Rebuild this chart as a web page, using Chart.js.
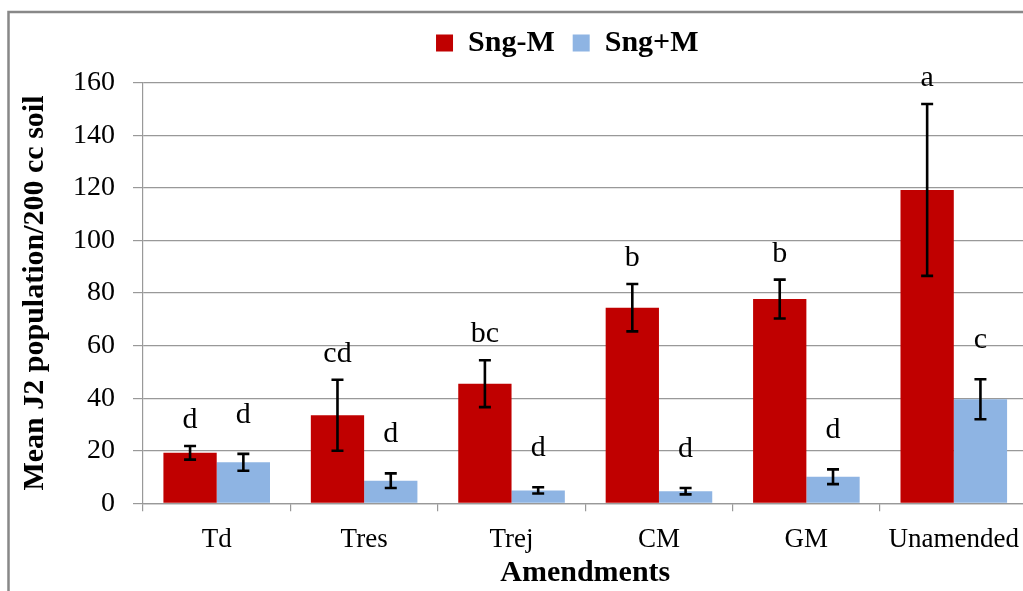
<!DOCTYPE html>
<html>
<head>
<meta charset="utf-8">
<script src="https://cdn.jsdelivr.net/npm/chart.js@4"></script>
<style>
  html, body { margin: 0; padding: 0; background: #fff; overflow: hidden; }
  #wrap { position: absolute; left: 0; top: 0; width: 1040px; height: 591px; }
</style>
</head>
<body>
<div id="wrap"><canvas id="chart" width="1040" height="591"></canvas></div>
<script>
// Amendment treatments on the x axis
const categories = ['Td', 'Tres', 'Trej', 'CM', 'GM', 'Unamended'];

// Mean J2 population per 200 cc soil
const sngMinus = [19.2, 33.5, 45.5, 74.4, 77.7, 119.2];
const sngPlus  = [15.6, 8.6, 4.9, 4.6, 10.1, 39.6];

// Standard errors
const sngMinusErr = [2.6, 13.5, 8.9, 9.0, 7.4, 32.7];
const sngPlusErr  = [3.2, 2.8, 1.2, 1.2, 2.8, 7.6];

// Mean separation letters
const sngMinusLetters = ['d', 'cd', 'bc', 'b', 'b', 'a'];
const sngPlusLetters  = ['d', 'd', 'd', 'd', 'd', 'c'];

// Y axis ticks
const yMin = 0, yMax = 160, yStep = 20;

const SERIF = '"Liberation Serif", "Times New Roman", serif';

// Chart-area frame and white background
const frame = {
  id: 'frame',
  beforeDraw(chart) {
    const ctx = chart.ctx;
    ctx.save();
    ctx.fillStyle = '#ffffff';
    ctx.fillRect(0, 0, chart.width, chart.height);
    ctx.strokeStyle = '#888888';
    ctx.lineWidth = 2.5;
    ctx.strokeRect(8.5, 12, chart.width + 20, chart.height + 20);
    ctx.restore();
  }
};

// Legend sits a little left of the plot centre
const legendShift = {
  id: 'legendShift',
  afterLayout(chart) {
    const lg = chart.legend;
    if (lg) { lg.left -= 18; lg.right -= 18; }
  }
};

// Error bars with caps, and the letters above them
const errorBars = {
  id: 'errorBars',
  afterDatasetsDraw(chart) {
    const ctx = chart.ctx;
    const y = chart.scales.y;
    const letterGap = [18, 31];
    ctx.save();
    chart.data.datasets.forEach((ds, i) => {
      const meta = chart.getDatasetMeta(i);
      meta.data.forEach((bar, j) => {
        const v = ds.data[j], e = ds.errors[j];
        const top = y.getPixelForValue(v + e);
        const bot = y.getPixelForValue(v - e);
        ctx.strokeStyle = '#000';
        ctx.lineWidth = 2.6;
        ctx.beginPath();
        ctx.moveTo(bar.x, top); ctx.lineTo(bar.x, bot);
        ctx.moveTo(bar.x - 6, top); ctx.lineTo(bar.x + 6, top);
        ctx.moveTo(bar.x - 6, bot); ctx.lineTo(bar.x + 6, bot);
        ctx.stroke();
        ctx.fillStyle = '#000';
        ctx.font = '30px ' + SERIF;
        ctx.textAlign = 'center';
        ctx.textBaseline = 'alphabetic';
        ctx.fillText(ds.letters[j], bar.x, top - letterGap[i]);
      });
    });
    ctx.restore();
  }
};

new Chart(document.getElementById('chart'), {
  type: 'bar',
  data: {
    labels: categories,
    datasets: [
      {
        label: 'Sng-M',
        data: sngMinus,
        errors: sngMinusErr,
        letters: sngMinusLetters,
        backgroundColor: '#C00000',
        borderWidth: 0,
        categoryPercentage: 0.723,
        barPercentage: 1
      },
      {
        label: 'Sng+M',
        data: sngPlus,
        errors: sngPlusErr,
        letters: sngPlusLetters,
        backgroundColor: '#8EB4E3',
        borderWidth: 0,
        categoryPercentage: 0.723,
        barPercentage: 1
      }
    ]
  },
  options: {
    responsive: false,
    animation: false,
    devicePixelRatio: 1,
    layout: { padding: { top: 10, right: 12.5, bottom: 0, left: 0 } },
    plugins: {
      legend: {
        position: 'top',
        fullSize: false,
        labels: {
          boxWidth: 17,
          boxHeight: 17,
          padding: 18,
          color: '#000',
          font: { family: SERIF, size: 30, weight: 'bold' }
        }
      },
      title: {
        display: true,
        text: '',
        weight: 500,
        padding: 0,
        font: { size: 14.7, lineHeight: 1 }
      },
      tooltip: { enabled: false }
    },
    scales: {
      x: {
        afterFit(scale) { scale.height = 87.7; },
        grid: {
          offset: true,
          drawOnChartArea: false,
          drawTicks: true,
          tickLength: 8,
          color: '#999999',
          lineWidth: 1.2
        },
        border: { color: '#999999', width: 1.2 },
        ticks: {
          color: '#000',
          padding: 12,
          autoSkip: false,
          maxRotation: 0,
          font: { family: SERIF, size: 27 }
        },
        title: {
          display: true,
          text: 'Amendments',
          color: '#000',
          padding: { top: 0, bottom: 0 },
          font: { family: SERIF, size: 30, weight: 'bold' }
        }
      },
      y: {
        min: yMin,
        max: yMax,
        afterFit(scale) { scale.width = 143; },
        grid: {
          color: '#999999',
          lineWidth: 1.2,
          drawTicks: true,
          tickLength: 10
        },
        border: { color: '#999999', width: 1.2 },
        ticks: {
          stepSize: yStep,
          color: '#000',
          padding: 18,
          font: { family: SERIF, size: 28 }
        },
        title: {
          display: true,
          text: 'Mean J2 population/200 cc soil',
          color: '#000',
          padding: { top: 17, bottom: 0 },
          font: { family: SERIF, size: 30, weight: 'bold' }
        }
      }
    }
  },
  plugins: [frame, legendShift, errorBars]
});
</script>
</body>
</html>
